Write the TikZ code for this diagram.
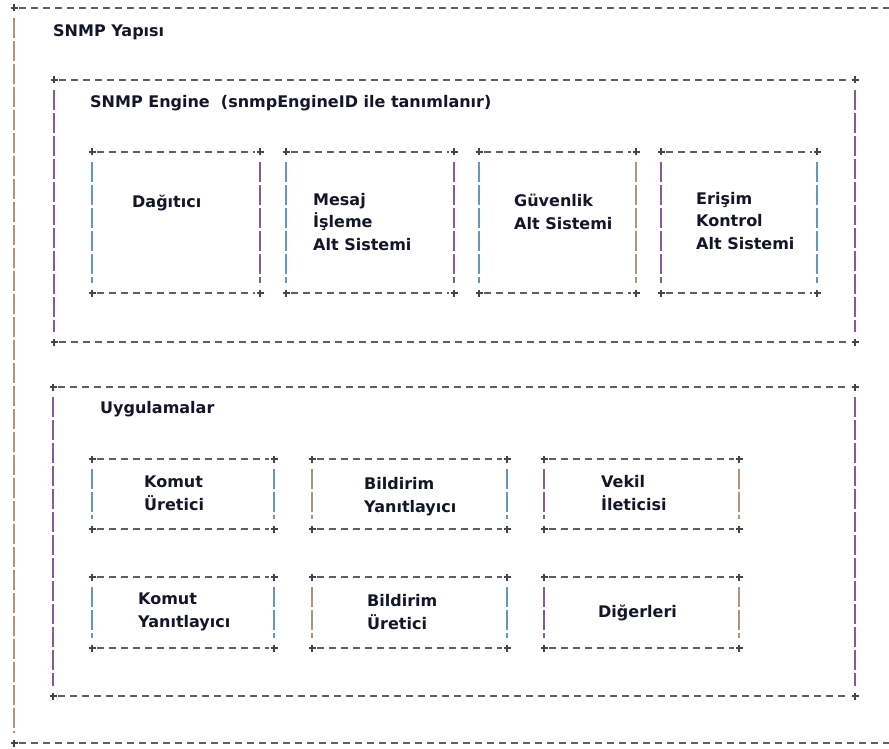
\documentclass[tikz,border=0pt]{standalone}
\usepackage{fontspec}
\setmainfont{DejaVu Sans}
\definecolor{hgray}{HTML}{5E5E66}
\definecolor{cgray}{HTML}{44444E}
\definecolor{vpurple}{HTML}{845C94}
\definecolor{vblue}{HTML}{6696BC}
\definecolor{vtan}{HTML}{B09478}
\definecolor{ink}{HTML}{15152A}
\tikzset{
  hdash/.style={draw=hgray, line width=1.3pt, dash pattern=on 7pt off 5pt},
  vdash/.style={line width=1.6pt, dash pattern=on 20pt off 3pt},
  cross/.style={draw=cgray, line width=1.4pt},
  lbl/.style={font=\fontsize{16}{22.5}\selectfont\bfseries, text=ink,
              inner sep=0pt, anchor=base west, align=left},
}
% dashed ascii-style frame: x1, y1, x2, y2, left colour, right colour
\newcommand{\asciibox}[6]{%
  \draw[hdash] (#1+5,#2) -- (#3-5,#2);
  \draw[hdash] (#1+5,#4) -- (#3-5,#4);
  \draw[vdash,draw=#5] (#1,#2+10) -- (#1,#4-10);
  \draw[vdash,draw=#6] (#3,#2+10) -- (#3,#4-10);
  \foreach \cx/\cy in {#1/#2,#3/#2,#1/#4,#3/#4}
    \draw[cross] (\cx-3.5,\cy) -- (\cx+3.5,\cy) (\cx,\cy-3.5) -- (\cx,\cy+3.5);
}
\begin{document}
\begin{tikzpicture}[x=1pt,y=-1pt]
\useasboundingbox (0,0) rectangle (889,749);

% outer frame (open to the right)
\draw[hdash] (19,8) -- (889,8);
\draw[hdash] (19,743) -- (889,743);
\draw[vdash,draw=vtan] (14,18) -- (14,733);
\foreach \cy in {8,743}
  \draw[cross] (10.5,\cy) -- (17.5,\cy) (14,\cy-3.5) -- (14,\cy+3.5);
\node[lbl] (yapi) at (53,37) {SNMP Yapısı};

% engine
\asciibox{54}{80}{855}{342}{vpurple}{vpurple}
\node[lbl] (engine) at (90,108) {SNMP Engine\ \ (snmpEngineID ile tanımlanır)};

\asciibox{92}{152}{260}{293}{vblue}{vpurple}
\asciibox{286}{152}{454}{293}{vblue}{vpurple}
\asciibox{479}{152}{636}{293}{vblue}{vtan}
\asciibox{661}{152}{817}{293}{vpurple}{vblue}

% multi-line labels are anchored at the baseline of their last line
\node[lbl] (dagitici) at (132,207) {Dağıtıcı};
\node[lbl] (mesaj) at (313,250) {Mesaj\\İşleme\\Alt Sistemi};
\node[lbl] (guvenlik) at (514,229) {Güvenlik\\Alt Sistemi};
\node[lbl] (erisim) at (696,249) {Erişim\\Kontrol\\Alt Sistemi};

% applications
\asciibox{53}{387}{855}{696}{vpurple}{vpurple}
\node[lbl] (uyg) at (100,413) {Uygulamalar};

\asciibox{92}{459}{274}{529}{vblue}{vblue}
\asciibox{312}{459}{507}{529}{vtan}{vblue}
\asciibox{544}{459}{739}{529}{vpurple}{vtan}
\asciibox{92}{577}{274}{648}{vblue}{vblue}
\asciibox{312}{577}{507}{648}{vtan}{vblue}
\asciibox{544}{577}{739}{648}{vpurple}{vtan}

\node[lbl] (kuretici) at (144,510) {Komut\\Üretici};
\node[lbl] (byanit) at (364,512) {Bildirim\\Yanıtlayıcı};
\node[lbl] (vekil) at (601,510) {Vekil\\İleticisi};
\node[lbl] (kyanit) at (138,627) {Komut\\Yanıtlayıcı};
\node[lbl] (buretici) at (367,629) {Bildirim\\Üretici};
\node[lbl] (diger) at (598,617) {Diğerleri};
\end{tikzpicture}
\end{document}
